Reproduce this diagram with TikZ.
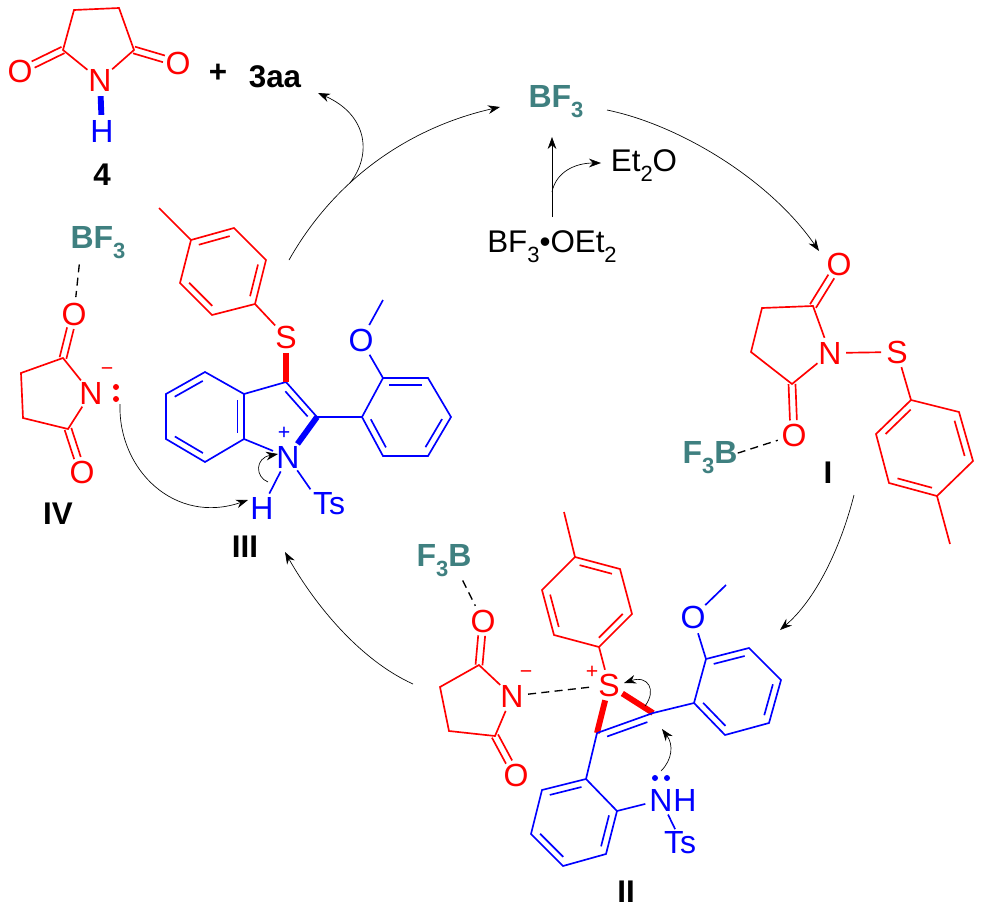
\documentclass[tikz,border=0pt]{standalone}
\usepackage{fontspec}
\setmainfont{Liberation Sans}
\usetikzlibrary{arrows.meta,calc}

\definecolor{bfteal}{HTML}{3F8080}

% sub index for the formulas
\newcommand{\lowr}[1]{\raisebox{-.6ex}{\fontsize{16.5}{17}\selectfont #1}}

% inner line of a ring bond, ring lying to the left of a->b
\newcommand{\ringdbl}[2]{\foreach \a/\b in {#2}
    \draw[#1] ($(\a)!.14!(\b)!5pt!90:(\b)$) -- ($(\b)!.14!(\a)!-5pt!90:(\a)$);}

% C=O with two lines around the axis
\newcommand{\carbonyl}[3]{
    \draw[#1,shorten >=11pt] ($(#2)!2.6pt!90:(#3)$) -- ($(#3)!2.6pt!-90:(#2)$);
    \draw[#1,shorten >=11pt] ($(#2)!2.6pt!-90:(#3)$) -- ($(#3)!2.6pt!90:(#2)$);}

\tikzset{
    atom/.style={circle,inner sep=0pt,font=\fontsize{24}{26}\selectfont},
    tsgroup/.style={inner sep=0pt,font=\fontsize{24}{26}\selectfont},
    label/.style={inner sep=0pt,font=\fontsize{23.5}{26}\selectfont\bfseries},
    plain/.style={inner sep=0pt,font=\fontsize{23.5}{26}\selectfont},
    lewis/.style={inner sep=0pt,font=\fontsize{24}{26}\selectfont\bfseries,text=bfteal},
    charge/.style={inner sep=0pt,font=\fontsize{16}{16}\selectfont},
    lonepair/.style={circle,inner sep=0pt,minimum size=4.5pt},
    rbond/.style={red,line width=1.25pt},
    bbond/.style={blue,line width=1.25pt},
    rbold/.style={red,line width=4.4pt},
    bbold/.style={blue,line width=4.4pt},
    assoc/.style={black,line width=1pt,dash pattern=on 6pt off 4pt},
    arc/.style={black,line width=.5pt,->}
}

\begin{document}
\begin{tikzpicture}[x=.75pt,y=-.75pt,>={Stealth[length=9pt,width=6.5pt]}]
    \useasboundingbox (0,0) rectangle (982,921);

    % Succinimid 4
    \coordinate (a1) at (63,50);
    \coordinate (a2) at (74,10);
    \coordinate (a3) at (119,8);
    \coordinate (a4) at (134,50);
    \node[atom,text=red] (aN) at (100,80) {N};
    \node[atom,text=red] (aO1) at (20,71) {O};
    \node[atom,text=red] (aO2) at (178,63) {O};
    \node[atom,text=blue] (aH) at (102,131) {H};
    \draw[rbond] (aN) -- (a1) -- (a2) -- (a3) -- (a4) -- (aN);
    \carbonyl{rbond}{a1}{aO1}
    \carbonyl{rbond}{a4}{aO2}
    \draw[bbold] (aN) -- (aH);
    \node[label] (four) at (102,175) {4};
    \node[plain] (plus) at (218,73) {\textbf{+}};
    \node[label] (prod) at (275,77) {3aa};

    % BF3 oben
    \node[lewis] (bf) at (556,102) {BF\lowr{3}};
    \node[plain] (bfe) at (552,247) {BF\lowr{3}•OEt\lowr{2}};
    \node[plain] (eto) at (644,166) {Et\lowr{2}O};
    \coordinate (bfeup) at (552,217);
    \coordinate (bfdown) at (552,137);
    \coordinate (bfbranch) at (552,192);
    \coordinate (etoin) at (601,163);
    \draw[arc] (bfeup) -- (bfdown);
    \draw[arc] (bfbranch) .. controls (556,172) and (575,163) .. (etoin);

    % Komplex I
    \coordinate (i1) at (813,306);
    \coordinate (i2) at (762,308);
    \coordinate (i3) at (751,352);
    \coordinate (i4) at (792,384);
    \node[atom,text=red] (iN) at (830,353) {N};
    \node[atom,text=red] (iS) at (897,352) {S};
    \node[atom,text=red] (iO1) at (839,264) {O};
    \node[atom,text=red] (iO2) at (794,435) {O};
    \node[lewis] (ibf) at (710,458) {F\lowr{3}B};
    \coordinate (t1) at (911,400);
    \coordinate (t2) at (876,434);
    \coordinate (t3) at (889,483);
    \coordinate (t4) at (937,496);
    \coordinate (t5) at (973,461);
    \coordinate (t6) at (959,412);
    \coordinate (tm) at (950,544);
    \draw[rbond] (iN) -- (i1) -- (i2) -- (i3) -- (i4) -- (iN);
    \draw[rbond] (iN) -- (iS) -- (t1) -- (t2) -- (t3) -- (t4) -- (t5) -- (t6) -- (t1);
    \draw[rbond] (t4) -- (tm);
    \carbonyl{rbond}{i1}{iO1}
    \carbonyl{rbond}{i4}{iO2}
    \ringdbl{rbond}{t1/t2,t3/t4,t5/t6}
    \draw[assoc] (ibf.10) -- (iO2);
    \node[label] (lI) at (828,473) {I};

    % Komplex II
    \coordinate (s1) at (479,665);
    \coordinate (s2) at (440,687);
    \coordinate (s3) at (449,731);
    \coordinate (s4) at (495,736);
    \node[atom,text=red] (sN) at (512,696) {N};
    \node[atom,text=red] (sO1) at (483,621) {O};
    \node[atom,text=red] (sO2) at (516,775) {O};
    \node[atom,text=red] (sS) at (609,685) {S};
    \node[lewis] (sbf) at (444,561) {F\lowr{3}B};
    \node[charge,text=red] (sminus) at (526,675) {−};
    \node[charge,text=red] (splus) at (592,672) {+};
    \draw[rbond] (sN) -- (s1) -- (s2) -- (s3) -- (s4) -- (sN);
    \carbonyl{rbond}{s1}{sO1}
    \carbonyl{rbond}{s4}{sO2}
    \coordinate (u1) at (599,647);
    \coordinate (u2) at (632,614);
    \coordinate (u3) at (620,569);
    \coordinate (u4) at (575,557);
    \coordinate (u5) at (542,590);
    \coordinate (u6) at (554,635);
    \coordinate (um) at (564,512);
    \draw[rbond] (sS) -- (u1) -- (u2) -- (u3) -- (u4) -- (u5) -- (u6) -- (u1);
    \draw[rbond] (u4) -- (um);
    \ringdbl{rbond}{u1/u2,u3/u4,u5/u6}
    \coordinate (vin1) at (597,733);
    \coordinate (vin2) at (653,713);
    \draw[rbold] (sS) -- (vin1);
    \draw[rbold] (sS) -- (vin2);
    \draw[bbond] (vin1) -- (vin2);
    \ringdbl{bbond}{vin2/vin1}
    \coordinate (v1) at (694,703);
    \coordinate (v2) at (725,735);
    \coordinate (v3) at (769,723);
    \coordinate (v4) at (781,680);
    \coordinate (v5) at (749,648);
    \coordinate (v6) at (706,659);
    \node[atom,text=blue] (vO) at (693,617) {O};
    \coordinate (vm) at (726,585);
    \draw[bbond] (vin2) -- (v1) -- (v2) -- (v3) -- (v4) -- (v5) -- (v6) -- (v1);
    \draw[bbond] (v6) -- (vO) -- (vm);
    \ringdbl{bbond}{v1/v2,v3/v4,v5/v6}
    \coordinate (w1) at (586,779);
    \coordinate (w2) at (542,790);
    \coordinate (w3) at (531,834);
    \coordinate (w4) at (563,866);
    \coordinate (w5) at (606,854);
    \coordinate (w6) at (617,811);
    \node[atom,text=blue] (wN) at (661,800) {N};
    \node[atom,text=blue] (wH) at (685,800) {H};
    \node[tsgroup,text=blue] (wTs) at (680,843) {Ts};
    \draw[bbond] (vin1) -- (w1) -- (w2) -- (w3) -- (w4) -- (w5) -- (w6) -- (w1);
    \draw[bbond] (w6) -- (wN);
    \draw[bbond,shorten >=2pt] (wN) -- (wTs.108);
    \ringdbl{bbond}{w1/w2,w3/w4,w5/w6}
    \node[lonepair,fill=blue] (wp1) at (655,778) {};
    \node[lonepair,fill=blue] (wp2) at (667,778) {};
    \draw[assoc] (sN) -- (sS);
    \draw[assoc] ($(sbf.south east)+(-9,3)$) -- (sO1);
    \node[label] (lII) at (626,892) {II};
    % Elektronenpfeile in II
    \coordinate (e1) at (645,706);
    \coordinate (e2) at (624,683);
    \coordinate (e3) at (661,771);
    \coordinate (e4) at (662,729);
    \draw[arc] (e1) .. controls (657,690) and (648,675) .. (e2);
    \draw[arc] (e3) .. controls (672,760) and (674,745) .. (e4);

    % Indoliumion III
    \coordinate (c3) at (286,382);
    \coordinate (c2) at (317,417);
    \coordinate (c3a) at (244,394);
    \coordinate (c7a) at (244,439);
    \coordinate (c4) at (205,372);
    \coordinate (c5) at (166,394);
    \coordinate (c6) at (166,439);
    \coordinate (c7) at (205,462);
    \node[atom,text=blue] (mN) at (288,457) {N};
    \node[atom,text=red] (mS) at (286,337) {S};
    \node[atom,text=blue] (mH) at (262,508) {H};
    \node[tsgroup,text=blue] (mTs) at (329,504) {Ts};
    \node[charge,text=blue] (mplus) at (284,433) {+};
    \draw[bbond] (c3a) -- (c3) -- (c2);
    \draw[bbond] (c3a) -- (c7a) -- (mN);
    \draw[bbond] (c3a) -- (c4) -- (c5) -- (c6) -- (c7) -- (c7a);
    \ringdbl{bbond}{c7a/c3a,c4/c5,c6/c7,c2/c3}
    \draw[bbold] (mN) -- (c2);
    \draw[rbold] (mS) -- (c3);
    \draw[bbond] (mN) -- (mH);
    \draw[bbond,shorten >=3pt] (mN) -- (mTs.north west);
    \coordinate (n1) at (255,304);
    \coordinate (n2) at (266,260);
    \coordinate (n3) at (234,228);
    \coordinate (n4) at (191,240);
    \coordinate (n5) at (180,283);
    \coordinate (n6) at (212,315);
    \coordinate (nm) at (159,208);
    \draw[rbond] (mS) -- (n1) -- (n2) -- (n3) -- (n4) -- (n5) -- (n6) -- (n1);
    \draw[rbond] (n4) -- (nm);
    \ringdbl{rbond}{n1/n2,n3/n4,n5/n6}
    \coordinate (p1) at (362,417);
    \coordinate (p2) at (383,456);
    \coordinate (p3) at (428,456);
    \coordinate (p4) at (451,417);
    \coordinate (p5) at (428,378);
    \coordinate (p6) at (383,378);
    \node[atom,text=blue] (pO) at (361,340) {O};
    \coordinate (pm) at (383,300);
    \draw[bbond] (c2) -- (p1) -- (p2) -- (p3) -- (p4) -- (p5) -- (p6) -- (p1);
    \draw[bbond] (p6) -- (pO) -- (pm);
    \ringdbl{bbond}{p1/p2,p3/p4,p5/p6}
    \node[label] (lIII) at (245,547) {III};
    \coordinate (h1) at (268,482);
    \coordinate (h2) at (278,454);
    \draw[arc] (h1) .. controls (255,477) and (255,458) .. (h2);

    % Anion IV
    \coordinate (d1) at (63,358);
    \coordinate (d2) at (21,373);
    \coordinate (d3) at (23,418);
    \coordinate (d4) at (68,429);
    \node[atom,text=red] (dN) at (91,393) {N};
    \node[atom,text=red] (dO1) at (74,314) {O};
    \node[atom,text=red] (dO2) at (82,472) {O};
    \node[lewis] (dbf) at (98,243) {BF\lowr{3}};
    \node[charge,text=red] (dminus) at (107,372) {−};
    \node[lonepair,fill=red] (dp1) at (116,387) {};
    \node[lonepair,fill=red] (dp2) at (116,399) {};
    \draw[rbond] (dN) -- (d1) -- (d2) -- (d3) -- (d4) -- (dN);
    \carbonyl{rbond}{d1}{dO1}
    \carbonyl{rbond}{d4}{dO2}
    \draw[assoc] ($(dbf.south west)+(9,5)$) -- (dO1);
    \node[label] (lIV) at (58,514) {IV};
    \coordinate (h3) at (120,404);
    \coordinate (h4) at (248,500);
    \draw[arc] (h3) .. controls (118,470) and (175,525) .. (h4);

    % Katalysezyklus
    \coordinate (k1) at (289,260);
    \coordinate (k2) at (500,107);
    \coordinate (k3) at (350,183);
    \coordinate (k4) at (318,93);
    \coordinate (k5) at (607,110);
    \coordinate (k6) at (819,251);
    \coordinate (k7) at (854,495);
    \coordinate (k8) at (780,630);
    \coordinate (k9) at (413,684);
    \coordinate (k10) at (285,552);
    \draw[arc] (k1) .. controls (340,170) and (420,125) .. (k2);
    \draw[arc] (k3) .. controls (372,155) and (368,115) .. (k4);
    \draw[arc] (k5) .. controls (680,125) and (770,180) .. (k6);
    \draw[arc] (k7) .. controls (840,550) and (815,600) .. (k8);
    \draw[arc] (k9) .. controls (360,660) and (315,605) .. (k10);
\end{tikzpicture}
\end{document}
